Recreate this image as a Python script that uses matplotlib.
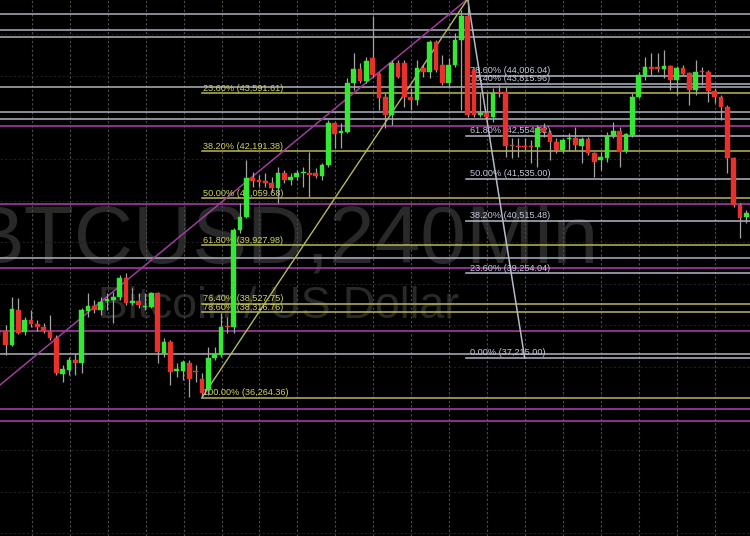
import numpy as np
import matplotlib
matplotlib.use('Agg')
import matplotlib.pyplot as plt

# BTCUSD 240 min candles (first one is cut by the left edge)
opens = [37843, 37875, 37531, 38373, 37851, 38132, 38029, 37971, 37867, 37706,
         36833, 36930, 37170, 37105, 38356, 38476, 38373, 38589, 38613, 38678,
         39135, 38534, 38596, 38445, 38452, 38774, 37331, 37610, 36905, 36905,
         37105, 36890, 36706, 36449, 37211, 37290, 37971, 37971, 40297, 40616,
         41540, 41499, 41475, 41420, 41299, 41660, 41499, 41578, 41660, 41650,
         41675, 41595, 41860, 42863, 42622, 42661, 43825, 44161, 43880, 44426,
         44048, 43502, 43062, 44306, 44306, 43502, 43423, 44185, 44104, 44825,
         44265, 43825, 44265, 44866, 45443, 44145, 43070, 43118, 43021, 43599,
         43615, 42341, 42324, 42305, 42305, 42300, 42742, 42622, 42420, 42220,
         42478, 42502, 42317, 42478, 42141, 41980, 42021, 42557, 42685, 42196,
         42581, 43502, 44000, 44209, 44209, 44169, 44241, 43904, 44185, 44065,
         43664, 44120, 44089, 43647, 43502, 43262, 42021, 40898, 40609]
highs = [37940, 38012, 38678, 38654, 38211, 38373, 38132, 38053, 38252, 37771,
         37050, 37249, 37331, 38413, 38774, 38613, 38692, 38774, 38813, 39214,
         39255, 38894, 38774, 38781, 38813, 38813, 37692, 37651, 37091, 37170,
         37170, 37050, 36850, 37483, 37490, 38300, 38211, 40345, 40946, 41980,
         41699, 41619, 41667, 41578, 41819, 41740, 41660, 41740, 41819, 42180,
         41788, 41901, 42942, 42901, 42863, 43945, 44546, 44306, 44464, 45443,
         44104, 43584, 44385, 44385, 44385, 43704, 44385, 44265, 44866, 44866,
         44505, 44426, 45027, 45588, 45855, 44185, 43591, 43591, 43704, 43784,
         43736, 42509, 42509, 42509, 42461, 42822, 42870, 42702, 42509, 42509,
         42622, 42781, 42533, 42533, 42180, 42180, 42661, 42901, 42781, 42629,
         43591, 44104, 44464, 44546, 44546, 44626, 44265, 44241, 44265, 44104,
         44385, 44224, 44145, 43712, 43543, 43303, 42059, 40946, 40778]
lows = [37747, 37290, 37507, 37795, 37771, 37971, 37875, 37812, 37651, 36809,
        36648, 36809, 36809, 36850, 38211, 38293, 38252, 38373, 38053, 38613,
        38493, 38493, 38413, 38373, 38413, 37091, 37249, 36569, 36768, 36689,
        36287, 36641, 36264, 36328, 37170, 37249, 37812, 37819, 40224, 40585,
        41338, 41338, 41338, 41218, 40946, 41420, 41379, 41499, 41338, 41097,
        41540, 41499, 41819, 42261, 42261, 42622, 43664, 43825, 43825, 43983,
        43183, 42750, 42822, 43945, 43262, 43183, 43303, 43983, 43945, 44096,
        43784, 43704, 44224, 43183, 43021, 43021, 43021, 42942, 42901, 43495,
        42052, 42028, 42059, 42220, 41901, 41819, 42540, 41980, 42141, 42141,
        42220, 42220, 41908, 42100, 41578, 41740, 41939, 42502, 41819, 42148,
        42540, 43464, 43904, 44024, 44104, 43945, 43664, 43543, 44024, 43303,
        43543, 43784, 43382, 43344, 42942, 41660, 40857, 40104, 40465]
closes = [37835, 37531, 38389, 37827, 38132, 38029, 37956, 37867, 37706, 36850,
          36946, 37170, 37105, 38373, 38476, 38373, 38572, 38630, 38678, 39135,
          38534, 38589, 38493, 38469, 38774, 37370, 37610, 36889, 36946, 37115,
          36706, 36870, 36369, 37218, 37314, 37971, 37955, 40297, 40616, 41540,
          41475, 41458, 41420, 41299, 41675, 41499, 41578, 41675, 41684, 41626,
          41595, 41860, 42863, 42598, 42677, 43825, 44161, 43880, 44368, 44024,
          43478, 43062, 44306, 43983, 43502, 43423, 44185, 44104, 44825, 44145,
          43825, 44265, 44866, 45443, 43062, 43062, 43085, 43021, 43599, 43580,
          42317, 42317, 42285, 42288, 42288, 42742, 42661, 42420, 42220, 42461,
          42502, 42341, 42478, 42141, 41939, 42059, 42557, 42685, 42180, 42598,
          43502, 44024, 44209, 44161, 44169, 44241, 43904, 44185, 44048, 43664,
          44104, 44089, 43647, 43502, 43262, 42021, 40898, 40578, 40705]

# fibonacci retracement from the low (36,264.36) to the peak
fib_a_pct = ['23.60%', '38.20%', '50.00%', '61.80%', '76.40%', '78.60%', '100.00%']
fib_a_val = [43591.61, 42191.38, 41059.68, 39927.98, 38527.75, 38316.76, 36264.36]
# fibonacci retracement from the peak down to 37,215.00
fib_b_pct = ['78.60%', '76.40%', '61.80%', '50.00%', '38.20%', '23.60%', '0.00%']
fib_b_val = [44006.04, 43815.96, 42554.52, 41535.00, 40515.48, 39254.04, 37215.00]

# horizontal support / resistance lines across the chart
gray_levels = [45484, 45114, 44931, 43728, 43127, 42973, 39616, 37307]
purple_levels = [42798, 40922, 39390, 37867, 35984, 35703]

peak_idx, peak_val = 73, 45855
low_idx, low_val = 31, 36264.36
fib_b_end_idx = 82
trend_start = (-1, 36556)

bg = 'black'
green = '#36e836'
red = '#e8302c'
wick_col = '#a4a4a4'
yellow_line = '#b8b65c'
yellow_text = '#d4d45c'
purple = '#a03ca0'
gray_line = '#b0b2bc'
fib_b_line = '#b4b9c8'
fib_b_text = '#c4c8dc'

fig = plt.figure(figsize=(7.5, 5.36), dpi=100, facecolor=bg)
ax = fig.add_axes([0, 0, 1, 1])
ax.set_facecolor(bg)
x_max = 117.6
ax.set_xlim(-0.9, x_max)
ax.set_ylim(32937, 45828)
for s in ax.spines.values():
    s.set_visible(False)

# grid
ax.set_xticks(np.arange(4.1, x_max, 6))
ax.set_yticks(np.arange(33000, 46000, 1000))
ax.tick_params(length=0, labelbottom=False, labelleft=False)
ax.set_axisbelow(True)
ax.xaxis.grid(True, color='#4c4c4c', lw=0.8, ls=(0, (2, 2)))
ax.yaxis.grid(True, color='#1f1f1f', lw=0.8, ls=(0, (2, 2)))

# watermark
ax.text(0.379, 0.511, 'BTCUSD,240Min', transform=ax.transAxes, ha='center',
        va='baseline', fontsize=59, color='#292929',
        family='Liberation Sans', zorder=0)
ax.text(0.371, 0.407, 'Bitcoin / US Dollar', transform=ax.transAxes, ha='center',
        va='baseline', fontsize=32, color='#292929', family='Liberation Sans', zorder=0)

for lv in gray_levels:
    ax.axhline(lv, color=gray_line, lw=1.1, zorder=2)
for lv in purple_levels:
    ax.axhline(lv, color=purple, lw=1.2, zorder=2)

# fib A (yellow)
for pct, lv in zip(fib_a_pct, fib_a_val):
    ax.plot([low_idx, x_max], [lv, lv], color=yellow_line, lw=1.1, zorder=2)
    ax.annotate(f'{pct} ({lv:,.2f})', xy=(low_idx, lv), xytext=(1, 1.6),
                textcoords='offset points', va='baseline', ha='left',
                fontsize=6.6, color=yellow_text, family='Liberation Sans', zorder=4)

# fib B (light blue/white)
for pct, lv in zip(fib_b_pct, fib_b_val):
    ax.plot([peak_idx - 0.2, x_max], [lv, lv], color=fib_b_line, lw=1.1, zorder=2)
    ax.annotate(f'{pct} ({lv:,.2f})', xy=(peak_idx, lv), xytext=(2, 2.0),
                textcoords='offset points', va='baseline', ha='left',
                fontsize=6.6, color=fib_b_text, family='Liberation Sans', zorder=4)

# diagonals
ax.plot([trend_start[0], peak_idx], [trend_start[1], peak_val], color=purple, lw=1.1, zorder=3)
ax.plot([low_idx, peak_idx], [low_val, peak_val], color=yellow_line, lw=1.0, zorder=3)
ax.plot([peak_idx, fib_b_end_idx], [peak_val, fib_b_val[-1]], color=fib_b_line, lw=1.1, zorder=3)

# candles
o = np.array(opens, dtype=float)
h = np.array(highs, dtype=float)
l = np.array(lows, dtype=float)
c = np.array(closes, dtype=float)
idx = np.arange(len(o)) - 1
up = c >= o
cols = np.where(up, green, red)
ax.vlines(idx, l, h, color=wick_col, lw=0.9, zorder=5)
body_lo = np.minimum(o, c)
body_h = np.maximum(np.abs(c - o), 30)
ax.bar(idx, body_h, bottom=body_lo, width=0.74, color=cols, edgecolor=cols,
       linewidth=0.3, zorder=6)

fig.savefig('out.png', dpi=100, facecolor=bg)
